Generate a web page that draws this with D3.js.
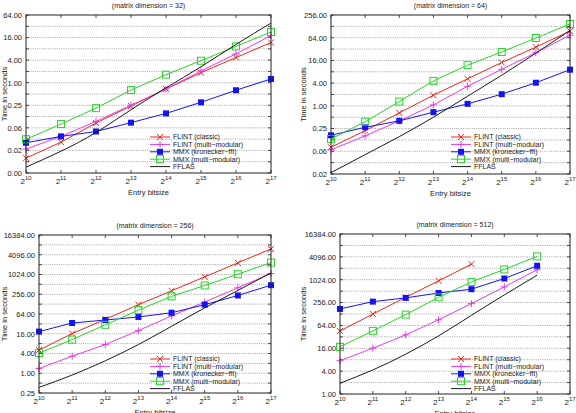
<!DOCTYPE html>
<html>
<head>
<meta charset="utf-8">
<script src="https://cdn.jsdelivr.net/npm/d3@7"></script>
<style>
  body { margin: 0; background: #fff; }
  svg text { font-family: "Liberation Sans", Arial, sans-serif; fill: #222; }
</style>
</head>
<body>
<div id="chart"></div>
<script>
// entry bitsizes, as powers of two
const bitExps = [10, 11, 12, 13, 14, 15, 16, 17];

const seriesNames = ["FLINT (classic)", "FLINT (multi\u2212modular)", "MMX (kronecker\u2212fft)", "MMX (multi\u2212modular)", "FFLAS"];

// time in seconds, matrix dimension = 32
const dim32Classic = [0.0097, 0.026, 0.084, 0.24, 0.68, 1.85, 4.7, 11.8];
const dim32FlintMM = [0.017, 0.037, 0.093, 0.25, 0.68, 2.06, 5.9, 18.1];
const dim32Kron    = [0.025, 0.037, 0.050, 0.086, 0.152, 0.30, 0.63, 1.26];
const dim32MmxMM   = [0.031, 0.079, 0.21, 0.64, 1.64, 3.86, 9.3, 22.6];
const dim32Fflas   = [0.0056, 0.0149, 0.047, 0.19, 0.73, 2.67, 10.5, 39];

// matrix dimension = 64
const dim64Classic = [0.080, 0.22, 0.65, 1.92, 5.2, 14.1, 36, 96];
const dim64FlintMM = [0.068, 0.16, 0.40, 1.06, 3.3, 9.3, 25.6, 75];
const dim64Kron    = [0.166, 0.27, 0.40, 0.68, 1.13, 2.04, 4.1, 9.1];
const dim64MmxMM   = [0.133, 0.38, 1.30, 4.6, 12.0, 26.7, 62.7, 148];
const dim64Fflas   = [0.017, 0.051, 0.153, 0.50, 1.80, 6.5, 25, 100];

// matrix dimension = 256
const dim256Classic = [5.1, 16.2, 44, 123, 326, 867, 2320, 6160];
const dim256FlintMM = [1.40, 3.3, 7.5, 20, 56, 148, 404, 1100];
const dim256Kron    = [18.6, 34, 42, 52, 70, 123, 235, 484];
const dim256MmxMM   = [4.1, 10.6, 30, 84, 220, 474, 1045, 2370];
const dim256Fflas   = [0.37, 0.88, 2.4, 7.5, 27, 98, 335, 1150];

// matrix dimension = 512 (no run at 2^17, classic stops at 2^14)
const dim512Classic = [45.6, 128, 352, 955, 2630, null, null, null];
const dim512FlintMM = [7.5, 16.1, 36, 90, 240, 662, 1870, null];
const dim512Kron    = [174, 271, 340, 458, 576, 1100, 2385, null];
const dim512MmxMM   = [17.5, 46, 123, 352, 898, 1910, 4210, null];
const dim512Fflas   = [1.92, 4.3, 11.2, 34, 118, 407, 1350, null];

const colors = ["#e8281e", "#e83ce8", "#1414f0", "#28d428", "#1a1a1a"];
const markers = ["cross", "plus", "filled", "open", "none"];

const panels = [
  {title: "(matrix dimension = 32)", left: 26, top: 15, right: 271, bottom: 173, yExp: [-8, 6],
   series: [dim32Classic, dim32FlintMM, dim32Kron, dim32MmxMM, dim32Fflas], legendX: 150, legendY: 137, ylabelX: 4},
  {title: "(matrix dimension = 64)", left: 331, top: 15, right: 570, bottom: 174, yExp: [-6, 8],
   series: [dim64Classic, dim64FlintMM, dim64Kron, dim64MmxMM, dim64Fflas], legendX: 451, legendY: 137, ylabelX: 303},
  {title: "(matrix dimension = 256)", left: 39, top: 235, right: 271, bottom: 393, yExp: [-2, 14],
   series: [dim256Classic, dim256FlintMM, dim256Kron, dim256MmxMM, dim256Fflas], legendX: 150, legendY: 359, ylabelX: 4},
  {title: "(matrix dimension = 512)", left: 340, top: 234, right: 570, bottom: 394, yExp: [0, 14],
   series: [dim512Classic, dim512FlintMM, dim512Kron, dim512MmxMM, dim512Fflas], legendX: 451, legendY: 359, ylabelX: 303}
];

const svg = d3.select("#chart").append("svg")
  .attr("width", 576)
  .attr("height", 413);

function drawMarker(g, type, x, y, color) {
  if (type === "cross") {
    g.append("path").attr("d", `M${x-3},${y-3}L${x+3},${y+3}M${x-3},${y+3}L${x+3},${y-3}`)
      .attr("stroke", color).attr("stroke-width", 1);
  } else if (type === "plus") {
    g.append("path").attr("d", `M${x-3.5},${y}L${x+3.5},${y}M${x},${y-3.5}L${x},${y+3.5}`)
      .attr("stroke", color).attr("stroke-width", 1);
  } else if (type === "filled") {
    g.append("rect").attr("x", x-3).attr("y", y-3).attr("width", 6).attr("height", 6)
      .attr("fill", color);
  } else if (type === "open") {
    g.append("rect").attr("x", x-3.5).attr("y", y-3.5).attr("width", 7).attr("height", 7)
      .attr("fill", "none").attr("stroke", color).attr("stroke-width", 1);
  }
}

panels.forEach(p => {
  let g = svg.append("g");

  let x = d3.scaleLinear().domain([10, 17]).range([p.left, p.right]);
  let y = d3.scaleLog().base(2)
    .domain([Math.pow(2, p.yExp[0]), Math.pow(2, p.yExp[1])])
    .range([p.bottom, p.top]);

  // every power of two gets a dotted grid line, every second one a label
  let gridVals = d3.range(p.yExp[0], p.yExp[1] + 1).map(e => Math.pow(2, e));
  let labelVals = d3.range(p.yExp[0], p.yExp[1] + 1, 2).map(e => Math.pow(2, e));

  g.selectAll(".grid").data(gridVals.slice(1, -1)).enter().append("line")
    .attr("x1", p.left).attr("x2", p.right)
    .attr("y1", d => y(d)).attr("y2", d => y(d))
    .attr("stroke", "#8a8a8a").attr("stroke-width", 0.8)
    .attr("stroke-dasharray", "1,1.2");

  // y axis (left) with labels
  let yAxis = d3.axisLeft(y).tickValues(labelVals)
    .tickFormat(d3.format(".2f")).tickSize(0).tickPadding(4);
  let ya = g.append("g").attr("transform", `translate(${p.left},0)`).call(yAxis);
  ya.select(".domain").remove();
  ya.selectAll("text").style("font-size", "7.5px").attr("fill", "#222");

  // inward tick marks on all sides
  gridVals.forEach(v => {
    g.append("line").attr("x1", p.left).attr("x2", p.left + 3).attr("y1", y(v)).attr("y2", y(v)).attr("stroke", "#222").attr("stroke-width", 0.8);
    g.append("line").attr("x1", p.right).attr("x2", p.right - 3).attr("y1", y(v)).attr("y2", y(v)).attr("stroke", "#222").attr("stroke-width", 0.8);
  });
  bitExps.forEach(e => {
    g.append("line").attr("x1", x(e)).attr("x2", x(e)).attr("y1", p.bottom).attr("y2", p.bottom - 3).attr("stroke", "#222").attr("stroke-width", 0.8);
    g.append("line").attr("x1", x(e)).attr("x2", x(e)).attr("y1", p.top).attr("y2", p.top + 3).attr("stroke", "#222").attr("stroke-width", 0.8);
  });

  // x tick labels 2^n
  bitExps.forEach(e => {
    let t = g.append("text")
      .attr("x", x(e)).attr("y", p.bottom + 11)
      .attr("text-anchor", "middle")
      .style("font-size", "8px");
    t.append("tspan").text("2");
    t.append("tspan").attr("dy", -4).style("font-size", "6px").text(e);
  });

  // series lines and markers
  p.series.forEach((vals, si) => {
    let pts = bitExps.map((e, i) => [e, vals[i]]).filter(d => d[1] != null);
    let line = d3.line()
      .x(d => x(d[0])).y(d => y(d[1]))
      .curve(si === 4 ? d3.curveNatural : d3.curveLinear);
    g.append("path").datum(pts)
      .attr("d", line)
      .attr("fill", "none")
      .attr("stroke", colors[si])
      .attr("stroke-width", 1);
    pts.forEach(d => drawMarker(g, markers[si], x(d[0]), y(d[1]), colors[si]));
  });

  // plot border
  g.append("rect")
    .attr("x", p.left).attr("y", p.top)
    .attr("width", p.right - p.left).attr("height", p.bottom - p.top)
    .attr("fill", "none").attr("stroke", "#222").attr("stroke-width", 1);

  // title and axis labels
  let cx = (p.left + p.right) / 2;
  g.append("text").attr("x", cx).attr("y", p.top - 7)
    .attr("text-anchor", "middle").style("font-size", "7px").text(p.title);
  g.append("text").attr("x", cx).attr("y", p.bottom + 22)
    .attr("text-anchor", "middle").style("font-size", "7.5px").text("Entry bitsize");
  g.append("text")
    .attr("transform", `translate(${p.ylabelX},${(p.top + p.bottom) / 2}) rotate(-90)`)
    .attr("text-anchor", "middle").attr("dy", "0.35em")
    .style("font-size", "7.5px").text("Time in seconds");

  // legend
  seriesNames.forEach((name, si) => {
    let ly = p.legendY + si * 7.4;
    g.append("line").attr("x1", p.legendX).attr("x2", p.legendX + 20)
      .attr("y1", ly).attr("y2", ly)
      .attr("stroke", colors[si]).attr("stroke-width", 1);
    drawMarker(g, markers[si], p.legendX + 10, ly, colors[si]);
    g.append("text").attr("x", p.legendX + 23).attr("y", ly).attr("dy", "0.35em")
      .style("font-size", "7px").text(name);
  });
});
</script>
</body>
</html>
